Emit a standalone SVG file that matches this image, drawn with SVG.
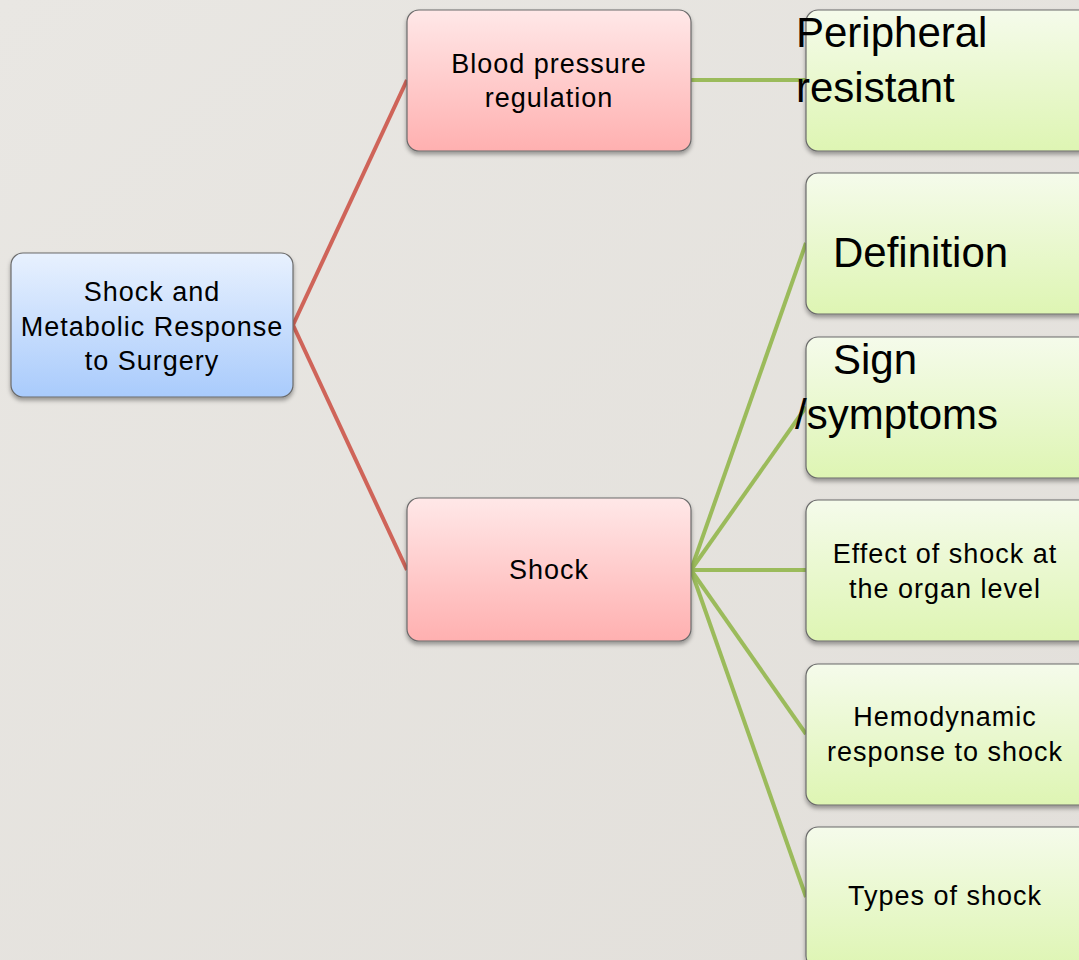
<svg xmlns="http://www.w3.org/2000/svg" width="1079" height="960" viewBox="0 0 1079 960">
  <defs>
    <linearGradient id="bg" x1="0" y1="0" x2="1" y2="1">
      <stop offset="0" stop-color="#e9e7e3"/>
      <stop offset="1" stop-color="#e2dfda"/>
    </linearGradient>
    <linearGradient id="gBlue" x1="0" y1="0" x2="0" y2="1">
      <stop offset="0" stop-color="#e8f1fe"/>
      <stop offset="1" stop-color="#a9cbfc"/>
    </linearGradient>
    <linearGradient id="gRed" x1="0" y1="0" x2="0" y2="1">
      <stop offset="0" stop-color="#ffe8e8"/>
      <stop offset="1" stop-color="#ffb0b0"/>
    </linearGradient>
    <linearGradient id="gGreen" x1="0" y1="0" x2="0" y2="1">
      <stop offset="0" stop-color="#f5fbeb"/>
      <stop offset="1" stop-color="#def5b3"/>
    </linearGradient>
    <filter id="shadow" x="-10%" y="-10%" width="120%" height="130%">
      <feDropShadow dx="0" dy="3" stdDeviation="2" flood-color="#000" flood-opacity="0.35"/>
    </filter>
  </defs>
  <style>
    .box { stroke: #6b6b6b; stroke-width: 1.2; filter: url(#shadow); }
    .blue { fill: url(#gBlue); }
    .red { fill: url(#gRed); }
    .green { fill: url(#gGreen); }
    .txt { font-family: "Liberation Sans", Arial, sans-serif; font-size: 27px; letter-spacing: 1px; fill: #000; text-anchor: middle; }
    .big { font-family: "Liberation Sans", Arial, sans-serif; font-size: 42px; fill: #000; }
    .redline { stroke: #cf6459; stroke-width: 4; fill: none; }
    .greenline { stroke: #9bbb5b; stroke-width: 4; fill: none; }
  </style>
  <rect x="0" y="0" width="1079" height="960" fill="url(#bg)"/>

  <g id="connectors">
    <line class="redline" x1="293" y1="325" x2="407" y2="80"/>
    <line class="redline" x1="293" y1="325" x2="407" y2="570"/>
    <line class="greenline" x1="691" y1="80" x2="806" y2="80"/>
    <line class="greenline" x1="691" y1="570" x2="806" y2="243"/>
    <line class="greenline" x1="691" y1="570" x2="806" y2="407"/>
    <line class="greenline" x1="691" y1="570" x2="806" y2="570"/>
    <line class="greenline" x1="691" y1="570" x2="806" y2="734"/>
    <line class="greenline" x1="691" y1="570" x2="806" y2="897"/>
  </g>

  <g id="node-root">
    <rect class="box blue" x="11" y="253" width="282" height="144" rx="12"/>
    <text class="txt" x="152" y="301">Shock and</text>
    <text class="txt" x="152" y="336">Metabolic Response</text>
    <text class="txt" x="152" y="370">to Surgery</text>
  </g>

  <g id="node-bp">
    <rect class="box red" x="407" y="10" width="284" height="141" rx="12"/>
    <text class="txt" x="549" y="73">Blood pressure</text>
    <text class="txt" x="549" y="107">regulation</text>
  </g>

  <g id="node-shock">
    <rect class="box red" x="407" y="498" width="284" height="143" rx="12"/>
    <text class="txt" x="549" y="579">Shock</text>
  </g>

  <g id="node-peripheral">
    <rect class="box green" x="806" y="10" width="285" height="141" rx="12"/>
    <text class="big" x="796" y="47">Peripheral</text>
    <text class="big" x="796" y="102">resistant</text>
  </g>

  <g id="node-definition">
    <rect class="box green" x="806" y="173" width="285" height="141" rx="12"/>
    <text class="big" x="833" y="267">Definition</text>
  </g>

  <g id="node-sign">
    <rect class="box green" x="806" y="337" width="285" height="141" rx="12"/>
    <text class="big" x="833" y="374">Sign</text>
    <text class="big" x="795" y="429">/symptoms</text>
  </g>

  <g id="node-effect">
    <rect class="box green" x="806" y="500" width="285" height="141" rx="12"/>
    <text class="txt" x="945" y="563">Effect of shock at</text>
    <text class="txt" x="945" y="598">the organ level</text>
  </g>

  <g id="node-hemodynamic">
    <rect class="box green" x="806" y="664" width="285" height="141" rx="12"/>
    <text class="txt" x="945" y="726">Hemodynamic</text>
    <text class="txt" x="945" y="761">response to shock</text>
  </g>

  <g id="node-types">
    <rect class="box green" x="806" y="827" width="285" height="141" rx="12"/>
    <text class="txt" x="945" y="905">Types of shock</text>
  </g>
</svg>
